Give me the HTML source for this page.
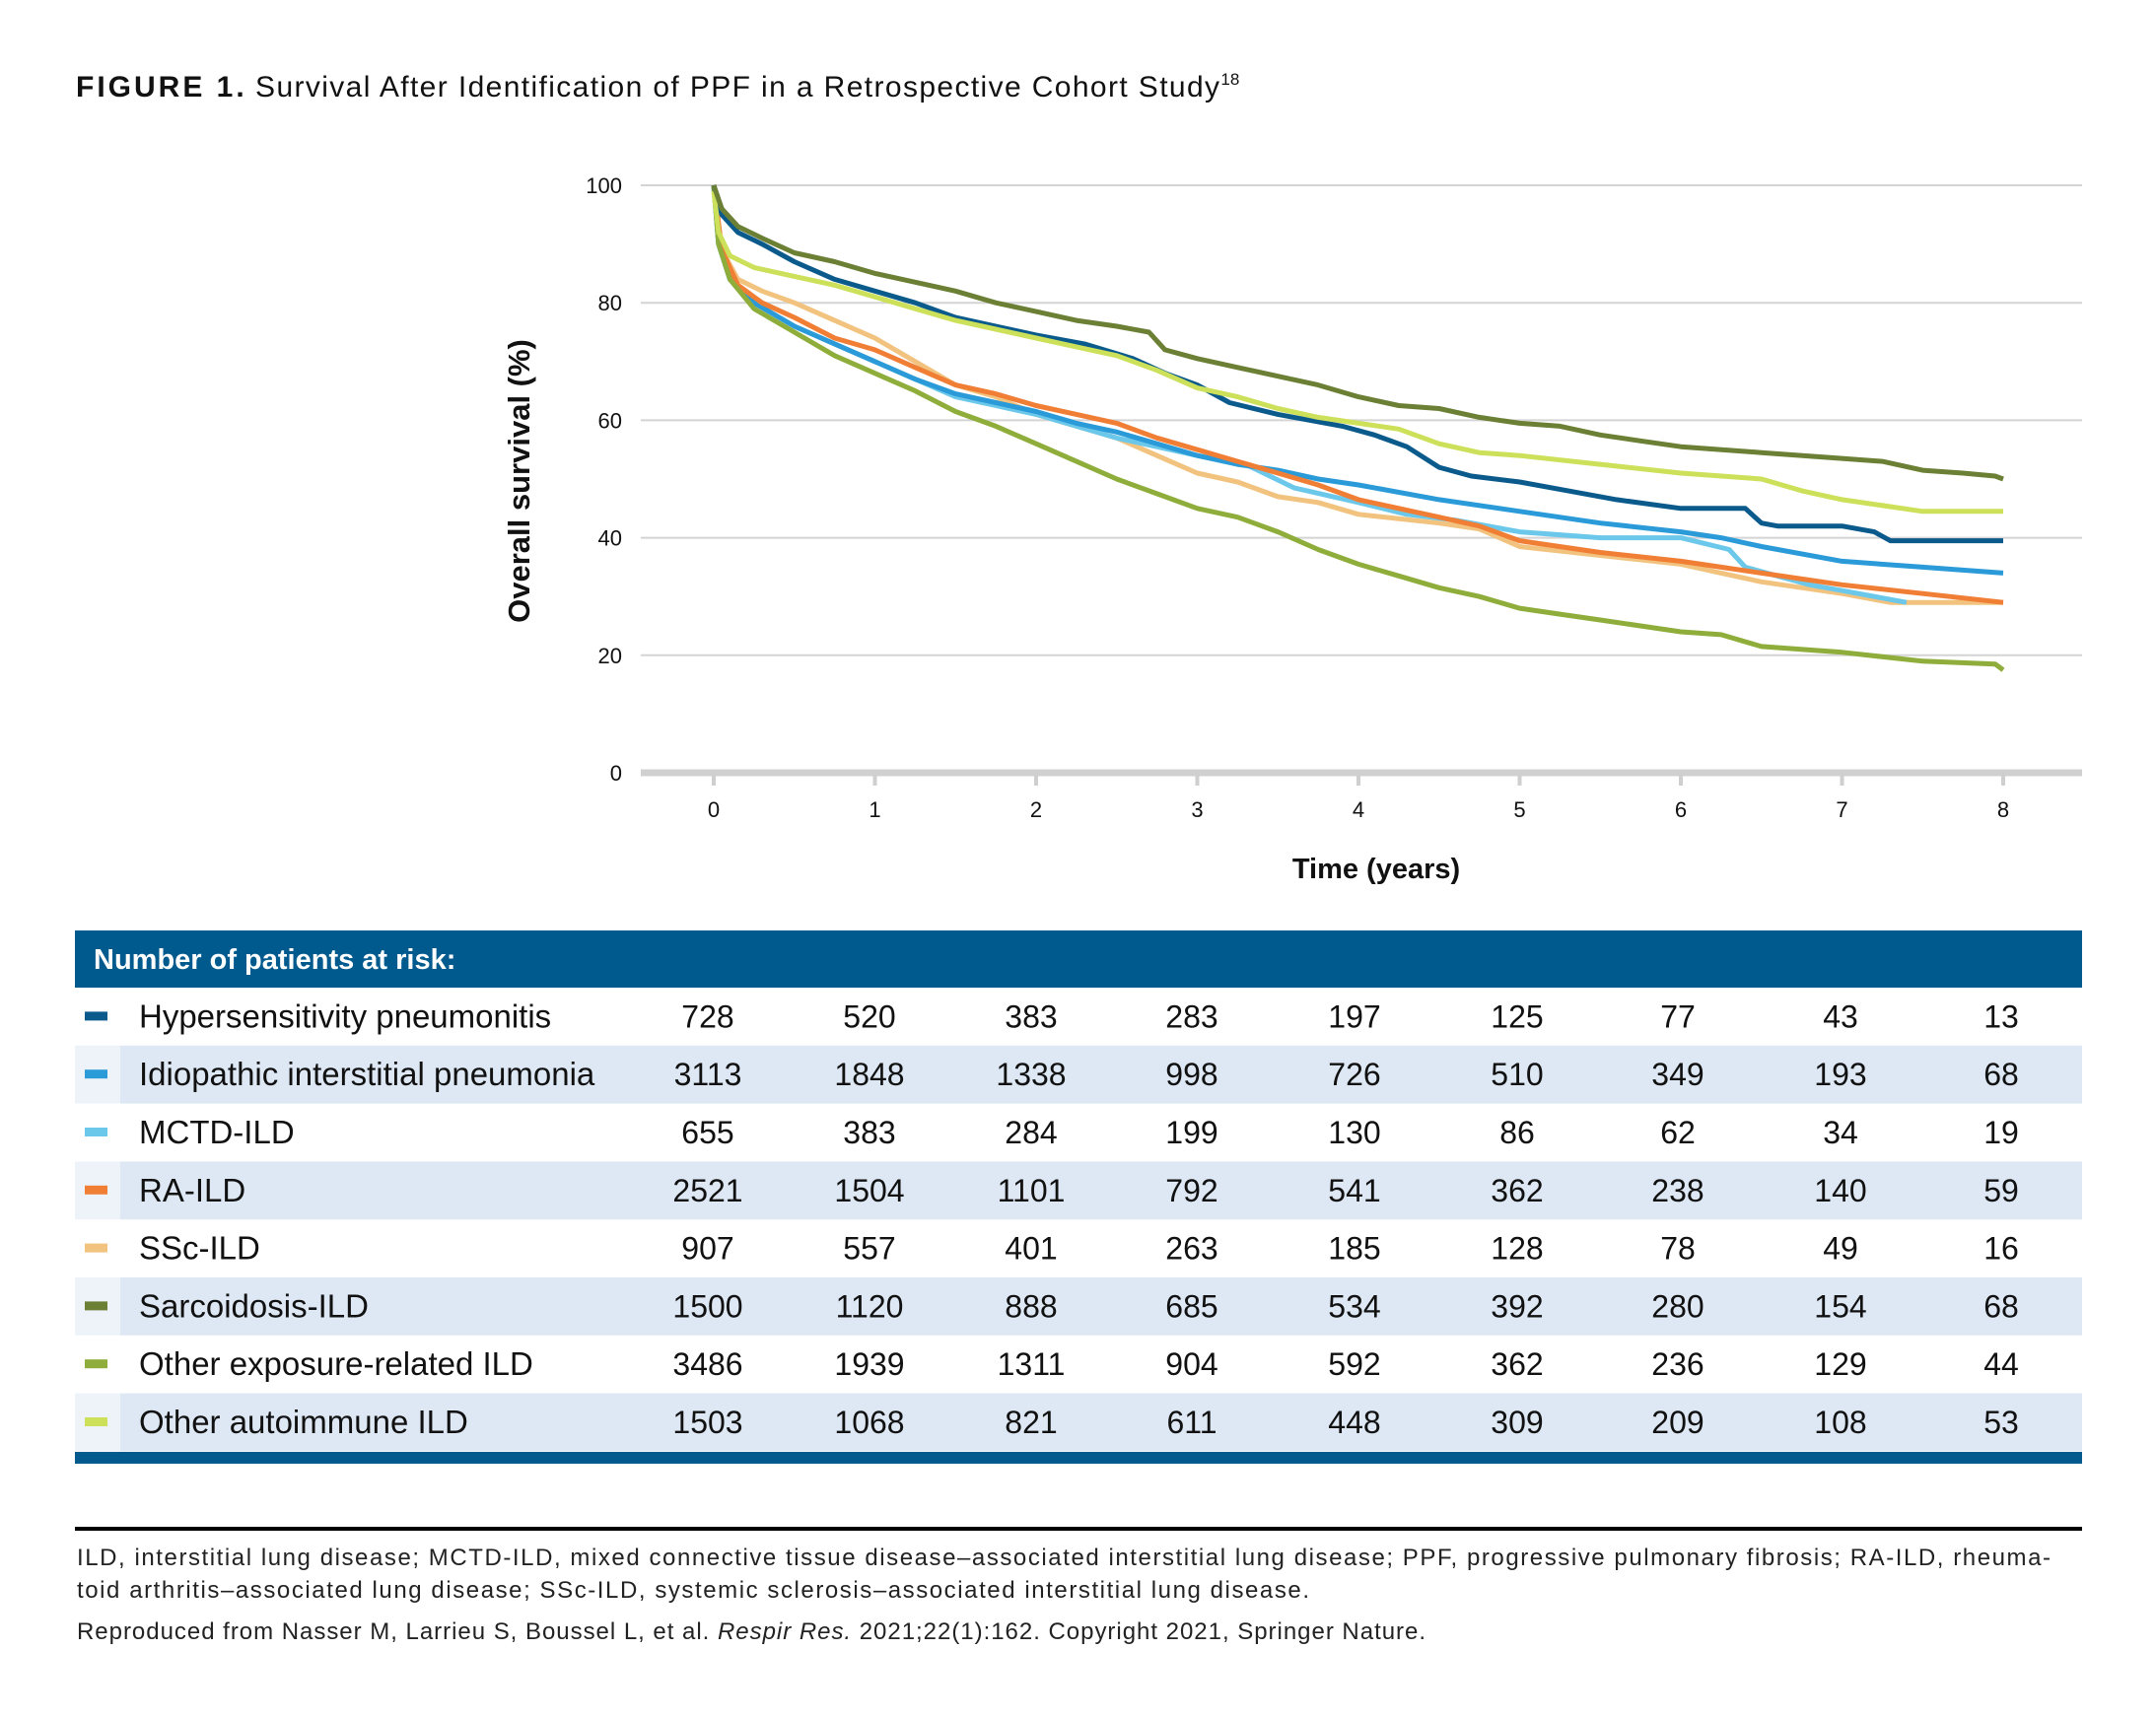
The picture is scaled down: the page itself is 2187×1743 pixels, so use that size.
<!DOCTYPE html>
<html><head><meta charset="utf-8">
<style>
html,body{margin:0;padding:0;background:#fff;}
body{width:2187px;height:1738px;overflow:hidden;font-family:"Liberation Sans",sans-serif;}
svg text{font-family:"Liberation Sans",sans-serif;}
</style></head>
<body>
<svg id="chart" width="2187" height="1738" xmlns="http://www.w3.org/2000/svg">
<text x="77" y="98" font-size="30" fill="#111"><tspan font-weight="bold" letter-spacing="3">FIGURE 1.</tspan> <tspan textLength="978" lengthAdjust="spacing">Survival After Identification of PPF in a Retrospective Cohort Study</tspan><tspan font-size="17" dy="-12">18</tspan></text>
<g id="grid"></g>
<g id="axes"></g>
<g id="series"></g>
<text transform="translate(537,488) rotate(-90)" text-anchor="middle" font-size="31" font-weight="bold" fill="#111">Overall survival (%)</text>
<text x="1396" y="891" text-anchor="middle" font-size="29" font-weight="bold" fill="#111">Time (years)</text>
<g id="table"></g>
<line x1="76" y1="1551" x2="2112" y2="1551" stroke="#000" stroke-width="4"/>
<text x="78" y="1588" font-size="24" fill="#222" textLength="2002" lengthAdjust="spacing">ILD, interstitial lung disease; MCTD-ILD, mixed connective tissue disease–associated interstitial lung disease; PPF, progressive pulmonary fibrosis; RA-ILD, rheuma-</text>
<text x="78" y="1621" font-size="24" fill="#222" textLength="1250" lengthAdjust="spacing">toid arthritis–associated lung disease; SSc-ILD, systemic sclerosis–associated interstitial lung disease.</text>
<text x="78" y="1663" font-size="24" fill="#222" textLength="1368" lengthAdjust="spacing">Reproduced from Nasser M, Larrieu S, Boussel L, et al. <tspan font-style="italic">Respir Res.</tspan> 2021;22(1):162. Copyright 2021, Springer Nature.</text>
</svg>
<script>
const yTicks=[0,20,40,60,80,100];
const xTicks=[0,1,2,3,4,5,6,7,8];
const seriesNames=["Hypersensitivity pneumonitis","Idiopathic interstitial pneumonia","MCTD-ILD","RA-ILD","SSc-ILD","Sarcoidosis-ILD","Other exposure-related ILD","Other autoimmune ILD"];
const seriesColors=["#0b5a8c","#2b9ad8","#6cc8ea","#f07e35","#f2c27f","#6b7f35","#8ead3a","#cce05a"];
const tHP=[0,0.05,0.15,0.3,0.5,0.75,1,1.25,1.5,2,2.3,2.6,2.8,3,3.2,3.5,3.7,3.9,4.1,4.3,4.5,4.7,5,5.3,5.6,6,6.4,6.5,6.6,7,7.2,7.3,8];
const sHP=[100,95,92,90,87,84,82,80,77.5,74.5,73,70.5,68,66,63,61,60,59,57.5,55.5,52,50.5,49.5,48,46.5,45,45,42.5,42,42,41,39.5,39.5];
const tIIP=[0,0.03,0.1,0.25,0.5,0.75,1,1.25,1.5,1.75,2,2.25,2.5,2.75,3,3.25,3.5,3.75,4,4.5,5,5.5,6,6.25,6.5,7,7.5,8];
const sIIP=[100,90,84,80,76,73,70,67,64.5,63,61.5,59.5,58,56,54,52.5,51.5,50,49,46.5,44.5,42.5,41,40,38.5,36,35,34];
const tMCTD=[0,0.03,0.1,0.25,0.5,1,1.5,2,2.5,3,3.3,3.6,4,4.3,4.6,5,5.5,6,6.3,6.4,6.8,7,7.4];
const sMCTD=[100,90,84,80,76,70,64,61,57,54,52.5,48.5,46,44,43,41,40,40,38,35,32,31,29];
const tRA=[0,0.05,0.15,0.3,0.5,0.75,1,1.25,1.5,1.75,2,2.25,2.5,2.75,3,3.25,3.5,3.75,4,4.25,4.5,4.75,5,5.5,6,6.25,6.5,7,7.5,8];
const sRA=[100,89,83,80,77.5,74,72,69,66,64.5,62.5,61,59.5,57,55,53,51,49,46.5,45,43.5,42,39.5,37.5,36,35,34,32,30.5,29];
const tSSc=[0,0.05,0.15,0.3,0.5,0.75,1,1.25,1.5,1.75,2,2.25,2.5,2.75,3,3.25,3.5,3.75,4,4.5,4.75,5,5.5,6,6.25,6.5,7,7.3,8];
const sSSc=[100,89,84,82,80,77,74,70,66,64,61,59,57,54,51,49.5,47,46,44,42.5,41.5,38.5,37,35.5,34,32.5,30.5,29,29];
const tSarc=[0,0.05,0.15,0.3,0.5,0.75,1,1.25,1.5,1.75,2,2.25,2.5,2.7,2.8,3,3.25,3.5,3.75,4,4.25,4.5,4.75,5,5.25,5.5,5.75,6,6.5,7,7.25,7.5,7.75,7.95,8];
const sSarc=[100,96,93,91,88.5,87,85,83.5,82,80,78.5,77,76,75,72,70.5,69,67.5,66,64,62.5,62,60.5,59.5,59,57.5,56.5,55.5,54.5,53.5,53,51.5,51,50.5,50];
const tExp=[0,0.03,0.1,0.25,0.5,0.75,1,1.25,1.5,1.75,2,2.25,2.5,2.75,3,3.25,3.5,3.75,4,4.25,4.5,4.75,5,5.25,5.5,5.75,6,6.25,6.5,7,7.5,7.95,8];
const sExp=[100,90,84,79,75,71,68,65,61.5,59,56,53,50,47.5,45,43.5,41,38,35.5,33.5,31.5,30,28,27,26,25,24,23.5,21.5,20.5,19,18.5,17.5];
const tAI=[0,0.03,0.1,0.25,0.5,0.75,1,1.25,1.5,1.75,2,2.25,2.5,2.75,3,3.25,3.5,3.75,4,4.25,4.5,4.75,5,5.5,6,6.5,6.75,7,7.5,8];
const sAI=[99,92,88,86,84.5,83,81,79,77,75.5,74,72.5,71,68.5,65.5,64,62,60.5,59.5,58.5,56,54.5,54,52.5,51,50,48,46.5,44.5,44.5];
const riskHP=[728,520,383,283,197,125,77,43,13];
const riskIIP=[3113,1848,1338,998,726,510,349,193,68];
const riskMCTD=[655,383,284,199,130,86,62,34,19];
const riskRA=[2521,1504,1101,792,541,362,238,140,59];
const riskSSc=[907,557,401,263,185,128,78,49,16];
const riskSarc=[1500,1120,888,685,534,392,280,154,68];
const riskExp=[3486,1939,1311,904,592,362,236,129,44];
const riskAI=[1503,1068,821,611,448,309,209,108,53];

const NS="http://www.w3.org/2000/svg";
const X0=724,X8=2032,Y0=784,Y100=188;
const xs=t=>X0+(X8-X0)*t/8;
const ys=v=>Y0-(Y0-Y100)*v/100;
function mk(tag,attrs,parent,text){const e=document.createElementNS(NS,tag);for(const k in attrs)e.setAttribute(k,attrs[k]);if(text!==undefined)e.textContent=text;parent.appendChild(e);return e;}
const grid=document.getElementById('grid'),axes=document.getElementById('axes'),ser=document.getElementById('series'),tbl=document.getElementById('table');
yTicks.forEach(v=>{
  if(v>0){const l=mk('line',{x1:650,x2:2112,y1:ys(v),y2:ys(v),stroke:'#d4d4d4','stroke-width':2},grid);
  
  }
  const t=mk('text',{x:631,y:ys(v)+8,'text-anchor':'end','font-size':22,fill:'#111'},axes,String(v));
  
  
});
const base=mk('line',{x1:650,x2:2112,y1:Y0,y2:Y0,stroke:'#d0d0d0','stroke-width':7},axes);


xTicks.forEach(v=>{
  const tk=mk('line',{x1:xs(v),x2:xs(v),y1:Y0,y2:Y0+13,stroke:'#cfcfcf','stroke-width':4},axes);
  
  
  const t=mk('text',{x:xs(v),y:829,'text-anchor':'middle','font-size':22,fill:'#111'},axes,String(v));
  
  
});
const times=[tHP,tIIP,tMCTD,tRA,tSSc,tSarc,tExp,tAI];
const surv=[sHP,sIIP,sMCTD,sRA,sSSc,sSarc,sExp,sAI];
const order=[4,2,1,3,6,0,7,5];
order.forEach(i=>{
  const T=times[i],S=surv[i];let d='M'+xs(T[0]).toFixed(1)+' '+ys(S[0]).toFixed(1);
  for(let k=1;k<T.length;k++){d+=' L'+xs(T[k]).toFixed(1)+' '+ys(S[k]).toFixed(1);}
  const p=mk('path',{d:d,fill:'none',stroke:seriesColors[i],'stroke-width':5,'stroke-linejoin':'round'},ser);
  
  
});
// table
const hdr=mk('rect',{x:76,y:944,width:2036,height:58,fill:'#005a8e'},tbl);


const ht=mk('text',{x:95,y:983,'font-size':29,'font-weight':'bold',fill:'#fff'},tbl,'Number of patients at risk:');


const risks=[riskHP,riskIIP,riskMCTD,riskRA,riskSSc,riskSarc,riskExp,riskAI];
const colX=[718,882,1046,1209,1374,1539,1702,1867,2030];
const RH=58.8,RY=1002;
seriesNames.forEach((nm,i)=>{
  const y=RY+i*RH;
  if(i%2===1){
    const a=mk('rect',{x:76,y:y,width:46,height:RH,fill:'#eef3fa'},tbl);
    
    
    const r=mk('rect',{x:122,y:y,width:1990,height:RH,fill:'#dde8f4'},tbl);
    
    
  }
  const cy=y+RH/2;
  const sw=mk('rect',{x:86,y:cy-5,width:23,height:9,fill:seriesColors[i]},tbl);
  
  
  const lb=mk('text',{x:141,y:cy+11,'font-size':33,fill:'#111'},tbl,nm);
  
  
  risks[i].forEach((v,j)=>{
    const t=mk('text',{x:colX[j],y:cy+11,'text-anchor':'middle','font-size':32,fill:'#111'},tbl,String(v));
    
    
  });
});
const bb=mk('rect',{x:76,y:1473,width:2036,height:12,fill:'#005a8e'},tbl);


</script>
</body></html>
